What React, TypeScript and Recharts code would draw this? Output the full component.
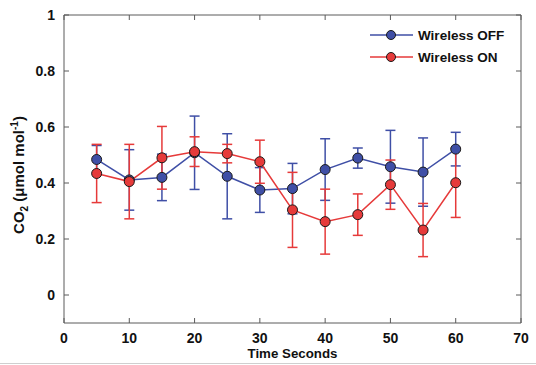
import React from 'react';
import { ComposedChart, Line, XAxis, YAxis, ErrorBar, Legend } from 'recharts';

const times = [5, 10, 15, 20, 25, 30, 35, 40, 45, 50, 55, 60];
const wirelessOff = [0.484, 0.411, 0.42, 0.508, 0.424, 0.375, 0.38, 0.448, 0.489, 0.458, 0.439, 0.521];
const wirelessOffErr = [0.05, 0.108, 0.083, 0.131, 0.152, 0.08, 0.09, 0.11, 0.036, 0.13, 0.122, 0.06];
const wirelessOn = [0.434, 0.405, 0.49, 0.512, 0.505, 0.476, 0.304, 0.262, 0.287, 0.394, 0.232, 0.401];
const wirelessOnErr = [0.104, 0.133, 0.112, 0.053, 0.033, 0.077, 0.134, 0.116, 0.074, 0.088, 0.095, 0.124];
const xTicks = [0, 10, 20, 30, 40, 50, 60, 70];
const yTicks = [0, 0.2, 0.4, 0.6, 0.8, 1];

const data = times.map((t, i) => ({
  t,
  off: wirelessOff[i],
  offErr: wirelessOffErr[i],
  on: wirelessOn[i],
  onErr: wirelessOnErr[i],
}));

const BLUE = '#3f4fa6';
const RED = '#e63a3a';
const AXIS = '#5a5a5a';
const FONT = '"Liberation Sans", Arial, Helvetica, sans-serif';

const BottomTick = (props: any) => {
  const { x, y, payload } = props;
  return (
    <g>
      <line x1={x} x2={x} y1={y} y2={y - 5} stroke={AXIS} strokeWidth={1} />
      <text x={x} y={y + 19.5} textAnchor="middle" fontFamily={FONT} fontWeight="bold" fontSize={14} fill="#111">
        {payload.value}
      </text>
    </g>
  );
};

const TopTick = (props: any) => {
  const { x, y } = props;
  return <line x1={x} x2={x} y1={y} y2={y + 5} stroke={AXIS} strokeWidth={1} />;
};

const LeftTick = (props: any) => {
  const { x, y, payload } = props;
  return (
    <g>
      <line x1={x} x2={x + 5} y1={y} y2={y} stroke={AXIS} strokeWidth={1} />
      <text x={x - 9} y={y + 5} textAnchor="end" fontFamily={FONT} fontWeight="bold" fontSize={14} fill="#111">
        {String(payload.value)}
      </text>
    </g>
  );
};

const RightTick = (props: any) => {
  const { x, y } = props;
  return <line x1={x} x2={x - 5} y1={y} y2={y} stroke={AXIS} strokeWidth={1} />;
};

const YLabel = () => (
  <text
    transform="translate(24,175) rotate(-90)"
    textAnchor="middle"
    fontFamily={FONT}
    fontWeight="bold"
    fontSize={15}
    fill="#111"
  >
    <tspan>CO</tspan>
    <tspan dy={4} fontSize={10}>2</tspan>
    <tspan dy={-4}> (μmol mol</tspan>
    <tspan dy={-6} fontSize={10}>-1</tspan>
    <tspan dy={6}>)</tspan>
  </text>
);

const XLabel = () => (
  <text x={292.5} y={358} textAnchor="middle" fontFamily={FONT} fontWeight="bold" fontSize={13.3} fill="#111">
    Time Seconds
  </text>
);

const renderLegend = (props: any) => {
  const { payload } = props;
  const items = (payload || []).filter((e: any) => e.type !== 'none');
  return (
    <svg width={150} height={50} style={{ display: 'block' }}>
      {items.map((e: any, i: number) => {
        const cy = 10 + 22 * i;
        return (
          <g key={i}>
            <line x1={5} x2={48} y1={cy} y2={cy} stroke={e.color} strokeWidth={1.5} />
            <circle cx={26} cy={cy} r={4.5} fill={e.color} stroke="#1a1a1a" strokeWidth={1} />
            <text x={53} y={cy + 4.8} fontFamily={FONT} fontWeight="bold" fontSize={13.5} fill="#111">
              {e.value}
            </text>
          </g>
        );
      })}
    </svg>
  );
};

export default function App() {
  return (
    <div style={{ position: 'absolute', left: 0, top: 0, width: 536, height: 365, background: '#fff' }}>
      <ComposedChart width={536} height={365} data={data} margin={{ top: 14, right: 14, bottom: 0, left: 0 }}>
        <XAxis
          dataKey="t"
          type="number"
          domain={[0, 70]}
          ticks={xTicks}
          interval={0}
          height={42}
          tickSize={0}
          tickMargin={0}
          tick={<BottomTick />}
          axisLine={{ stroke: AXIS, strokeWidth: 1 }}
          tickLine={false}
          label={<XLabel />}
        />
        <XAxis
          xAxisId="top"
          orientation="top"
          dataKey="t"
          type="number"
          domain={[0, 70]}
          ticks={xTicks}
          interval={0}
          height={1}
          tickSize={0}
          tickMargin={0}
          tick={<TopTick />}
          axisLine={{ stroke: AXIS, strokeWidth: 1 }}
          tickLine={false}
        />
        <YAxis
          type="number"
          domain={[-0.1, 1]}
          ticks={yTicks}
          interval={0}
          width={64}
          tickSize={0}
          tickMargin={0}
          tick={<LeftTick />}
          axisLine={{ stroke: AXIS, strokeWidth: 1 }}
          tickLine={false}
          label={<YLabel />}
        />
        <YAxis
          yAxisId="right"
          orientation="right"
          type="number"
          domain={[-0.1, 1]}
          ticks={yTicks}
          interval={0}
          width={1}
          tickSize={0}
          tickMargin={0}
          tick={<RightTick />}
          axisLine={{ stroke: AXIS, strokeWidth: 1 }}
          tickLine={false}
        />
        <Legend
          layout="horizontal"
          verticalAlign="middle"
          align="center"
          content={renderLegend}
          wrapperStyle={{ position: 'absolute', left: 365, top: 25, width: 150, height: 50 }}
        />
        <Line
          xAxisId="top"
          yAxisId="right"
          dataKey="off"
          stroke="none"
          dot={false}
          activeDot={false}
          legendType="none"
          isAnimationActive={false}
        />
        <Line
          name="Wireless OFF"
          dataKey="off"
          stroke={BLUE}
          strokeWidth={1.5}
          dot={{ r: 5, fill: BLUE, stroke: '#1a1a1a', strokeWidth: 1 }}
          activeDot={false}
          isAnimationActive={false}
        >
          <ErrorBar dataKey="offErr" direction="y" width={5} stroke={BLUE} strokeWidth={1.5} isAnimationActive={false} />
        </Line>
        <Line
          name="Wireless ON"
          dataKey="on"
          stroke={RED}
          strokeWidth={1.5}
          dot={{ r: 5, fill: RED, stroke: '#1a1a1a', strokeWidth: 1 }}
          activeDot={false}
          isAnimationActive={false}
        >
          <ErrorBar dataKey="onErr" direction="y" width={5} stroke={RED} strokeWidth={1.5} isAnimationActive={false} />
        </Line>
      </ComposedChart>
      <div style={{ position: 'absolute', left: 0, top: 363, width: 536, height: 1, background: '#cfcfcf' }} />
    </div>
  );
}
